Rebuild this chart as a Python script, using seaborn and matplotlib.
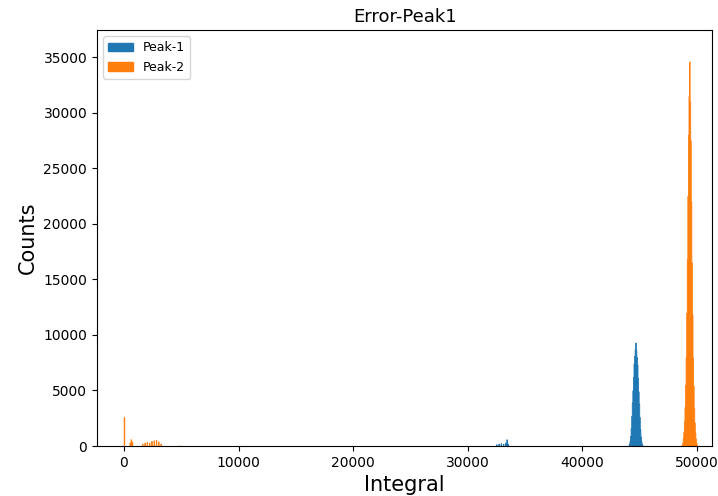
import numpy as np
import pandas as pd
import matplotlib
matplotlib.use("Agg")
import matplotlib.pyplot as plt
from matplotlib.patches import Patch
import seaborn as sns

# Bin centres (Integral) and counts
peak1_x = [32500, 32700, 32900, 33100, 33300, 33400, 33500,
           44050, 44100, 44150, 44200, 44250, 44300, 44350, 44400, 44450, 44500,
           44550, 44600, 44650, 44700, 44750, 44800, 44850, 44900, 44950, 45000,
           45050, 45100, 45150, 45200, 45250]
peak1_counts = [150, 200, 250, 200, 300, 600, 200,
                50, 200, 450, 900, 1600, 2700, 3900, 5000, 6200, 7400,
                8100, 8700, 9300, 8600, 8000, 7300, 6100, 4900, 3800, 2600,
                1500, 850, 400, 180, 50]

peak2_x = [0, 500, 600, 700, 1600, 1800, 2000, 2200, 2400, 2600, 2800, 3000, 3200, 4800,
           48700, 48750, 48800, 48850, 48900, 48950, 49000, 49050, 49100, 49150,
           49200, 49250, 49300, 49350, 49400, 49450, 49500, 49550, 49600, 49650,
           49700, 49750, 49800, 49850, 49900, 49950, 50000]
peak2_counts = [2600, 300, 600, 400, 200, 300, 350, 300, 450, 500, 550, 400, 200, 50,
                100, 300, 700, 1300, 2200, 3500, 5500, 8000, 12000, 16800,
                22500, 28000, 31500, 34600, 31000, 27500, 22000, 16500, 11800, 7900,
                5400, 3400, 2100, 1200, 650, 280, 100]

labels = ["Peak-1", "Peak-2"]
colors = ["#1f77b4", "#ff7f0e"]

fig = plt.figure(figsize=(7.18, 4.96), dpi=100)
ax = fig.add_axes([0.135, 0.1008, 0.857, 0.8387])

edges = [float(e) for e in np.arange(-25, 50076, 50)]
for xs, ws, c in [(peak1_x, peak1_counts, colors[0]), (peak2_x, peak2_counts, colors[1])]:
    df = pd.DataFrame({"Integral": xs, "w": ws})
    sns.histplot(data=df, x="Integral", weights="w", bins=edges, color=c, alpha=1,
                 element="step", fill=True, edgecolor=c, linewidth=0.6, ax=ax)

ax.set_xlim(-2360, 51350)
ax.set_ylim(0, 37440)
ax.set_xticks([0, 10000, 20000, 30000, 40000, 50000])
ax.set_yticks(range(0, 35001, 5000))
ax.set_title("Error-Peak1", fontsize=13)
ax.set_xlabel("Integral", fontsize=15)
ax.set_ylabel("Counts", fontsize=15)
handles = [Patch(color=c, label=l) for c, l in zip(colors, labels)]
ax.legend(handles=handles, loc="upper left", fontsize=9)

fig.savefig("out.png", dpi=100)
